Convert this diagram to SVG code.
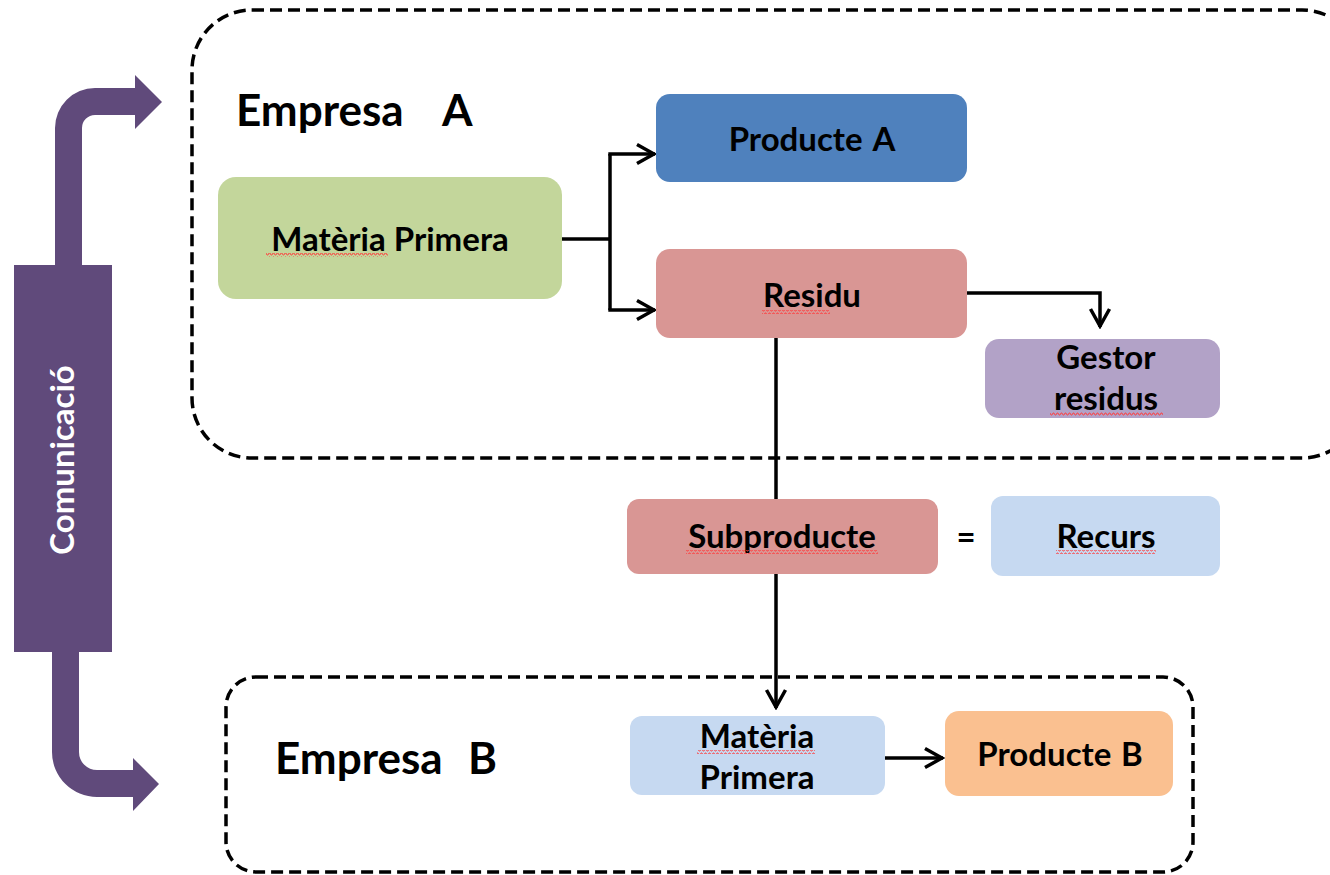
<svg xmlns="http://www.w3.org/2000/svg" width="1330" height="875" viewBox="0 0 1330 875">
<style>
.t{font-family:"Lato","Open Sans",sans-serif;font-weight:bold;fill:#000;text-anchor:middle;font-size:33px}
.big{font-family:"Lato","Open Sans",sans-serif;font-weight:bold;fill:#000;font-size:44px}
.box{stroke:none}
.dash{fill:none;stroke:#000;stroke-width:3.5;stroke-dasharray:12 6}
.con{fill:none;stroke:#000;stroke-width:3.5}
.sq{fill:url(#squig)}
</style>
<defs>
<marker id="arr" markerUnits="userSpaceOnUse" viewBox="0 0 22 24" markerWidth="22" markerHeight="24" refX="20" refY="12" orient="auto">
<path d="M2,2.5 L19,12 L2,21.5" fill="none" stroke="#000" stroke-width="3.5" stroke-linejoin="miter"/>
</marker>
<pattern id="squig" patternUnits="userSpaceOnUse" width="4" height="4" x="0" y="0">
<path d="M0,3 L1,1 L2,1 L3,3 L4,3" fill="none" stroke="#FF3B3B" stroke-width="0.9"/>
</pattern>
</defs>
<rect width="1330" height="875" fill="#fff"/>

<g id="empresaA">
<rect class="dash" x="192" y="10" width="1170" height="448" rx="60" ry="60"/>
<text class="big" x="236" y="126">Empresa<tspan x="442">A</tspan></text>
</g>
<g id="empresaB">
<rect class="dash" x="226" y="677" width="967" height="195" rx="30" ry="30"/>
<text class="big" x="275" y="774">Empresa<tspan x="468">B</tspan></text>
</g>

<g id="comunicacio">
<rect x="14" y="265" width="98" height="387" fill="#604A7B"/>
<path d="M55,266 L55,128 A40,40 0 0 1 95,88 L135,88 L135,75 L162,102 L135,129 L135,115 L95,115 A13,13 0 0 0 82,128 L82,266 Z" fill="#604A7B"/>
<path d="M52,651 L52,752 A45,45 0 0 0 97,797 L133,797 L133,811 L159,784 L133,758 L133,770 L97,770 A18,18 0 0 1 79,752 L79,651 Z" fill="#604A7B"/>
<text class="t" transform="translate(74,460) rotate(-90)" style="fill:#fff">Comunicació</text>
</g>

<g id="connectors">
<path class="con" d="M562,239 L610,239"/>
<path class="con" d="M610,154 L610,310"/>
<path class="con" d="M608.3,154 L655,154" marker-end="url(#arr)"/>
<path class="con" d="M608.3,310 L655,310" marker-end="url(#arr)"/>
<path class="con" d="M967,293 L1100,293 L1100,327" marker-end="url(#arr)"/>
<path class="con" d="M776,338 L776,708" marker-end="url(#arr)"/>
<path class="con" d="M885,758 L943,758" marker-end="url(#arr)"/>
</g>

<g id="materiaA">
<rect class="box" x="218" y="177" width="344" height="122" rx="18" fill="#C3D69B"/>
<text class="t" x="390" y="251">Matèria Primera</text>
<rect class="sq" x="266" y="253" width="122" height="4"/>
</g>
<g id="producteA">
<rect class="box" x="656" y="94" width="311" height="88" rx="14" fill="#4F81BD"/>
<text class="t" x="812" y="151">Producte<tspan dx="10">A</tspan></text>
</g>
<g id="residu">
<rect class="box" x="656" y="249" width="311" height="89" rx="14" fill="#D99694"/>
<text class="t" x="812" y="307">Residu</text>
<rect class="sq" x="762" y="310" width="68" height="4"/>
</g>
<g id="gestor">
<rect class="box" x="985" y="339" width="235" height="79" rx="14" fill="#B2A2C7"/>
<text class="t" x="1106" y="369">Gestor</text>
<text class="t" x="1106" y="410">residus</text>
<rect class="sq" x="1050" y="412" width="113" height="4"/>
</g>
<g id="subproducte">
<rect class="box" x="627" y="499" width="311" height="75" rx="12" fill="#D99694"/>
<text class="t" x="782" y="548">Subproducte</text>
<rect class="sq" x="686" y="550" width="192" height="4"/>
</g>
<text class="t" x="966" y="549">=</text>
<g id="recurs">
<rect class="box" x="991" y="496" width="229" height="80" rx="12" fill="#C6D9F1"/>
<text class="t" x="1106" y="548">Recurs</text>
<rect class="sq" x="1056" y="550" width="100" height="4"/>
</g>
<g id="materiaB">
<rect class="box" x="630" y="716" width="255" height="79" rx="12" fill="#C6D9F1"/>
<text class="t" x="757" y="748">Matèria</text>
<text class="t" x="757" y="789">Primera</text>
<rect class="sq" x="697" y="750" width="118" height="4"/>
</g>
<g id="producteB">
<rect class="box" x="945" y="711" width="228" height="85" rx="14" fill="#FAC090"/>
<text class="t" x="1060" y="766">Producte<tspan dx="10">B</tspan></text>
</g>
</svg>
